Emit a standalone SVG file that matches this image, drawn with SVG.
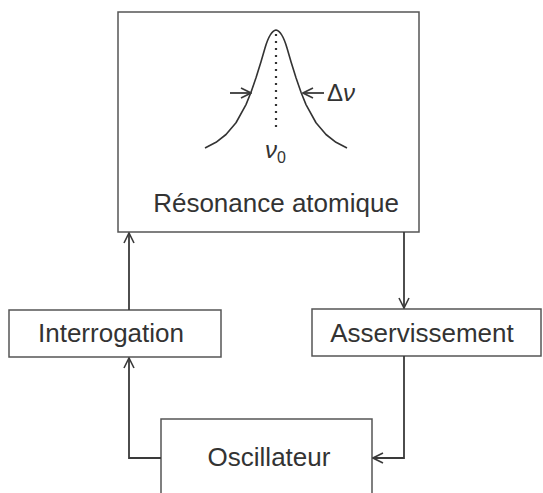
<svg xmlns="http://www.w3.org/2000/svg" width="543" height="493" viewBox="0 0 543 493">
<defs>
<marker id="arr" viewBox="0 0 12 12" refX="11" refY="6" markerWidth="12" markerHeight="12" markerUnits="userSpaceOnUse" orient="auto">
<path d="M1,1 L11,6 L1,11" fill="none" stroke="#3a3a3a" stroke-width="1.6"/>
</marker>
</defs>
<style>
.box{fill:#fff;stroke:#555;stroke-width:1.5}
.lbl{font-family:"Liberation Sans",Arial,sans-serif;font-size:26px;fill:#333;text-anchor:middle}
.con{fill:none;stroke:#3a3a3a;stroke-width:1.8}
.sym{font-family:"Liberation Sans",Arial,sans-serif;font-size:24px;fill:#333;font-style:italic}
</style>
<rect width="543" height="493" fill="#fff"/>
<g id="resonance">
<rect class="box" x="118" y="12" width="301" height="220"/>
<path d="M205,148 L216,142.3 L226,134.5 L236,122.75 L246,104.6 L251,92.3 L256,77.8 L261,61.8 L265,48 Q270,31 276,30 Q282,31 287,48 L291,61.8 L296,77.8 L301,92.3 L306,104.6 L316,122.75 L326,134.5 L336,142.3 L347,148" fill="none" stroke="#333" stroke-width="1.6" stroke-linejoin="round"/>
<line x1="276" y1="34" x2="276" y2="128" stroke="#333" stroke-width="2.2" stroke-dasharray="2,5"/>
<line x1="230" y1="93" x2="251" y2="93" class="con" marker-end="url(#arr)"/>
<line x1="324" y1="93" x2="303" y2="93" class="con" marker-end="url(#arr)"/>
<text class="sym" x="327" y="101"><tspan font-style="normal">Δ</tspan>ν</text>
<text class="sym" x="265" y="158">ν<tspan font-style="normal" font-size="16" dy="5">0</tspan></text>
<text class="lbl" x="276" y="212">Résonance atomique</text>
</g>
<g id="interrogation">
<rect class="box" x="9" y="310" width="212" height="47"/>
<text class="lbl" x="111" y="342">Interrogation</text>
</g>
<g id="asservissement">
<rect class="box" x="312" y="309" width="229" height="47"/>
<text class="lbl" x="422" y="342">Asservissement</text>
</g>
<g id="oscillateur">
<rect class="box" x="161" y="419" width="211" height="90"/>
<text class="lbl" x="269" y="466">Oscillateur</text>
</g>
<g id="connectors">
<line class="con" x1="129" y1="310" x2="129" y2="233" marker-end="url(#arr)"/>
<polyline class="con" points="161,458 129,458 129,358" marker-end="url(#arr)"/>
<line class="con" x1="404" y1="232" x2="404" y2="308" marker-end="url(#arr)"/>
<polyline class="con" points="404,356 404,458 373,458" marker-end="url(#arr)"/>
</g>
</svg>
